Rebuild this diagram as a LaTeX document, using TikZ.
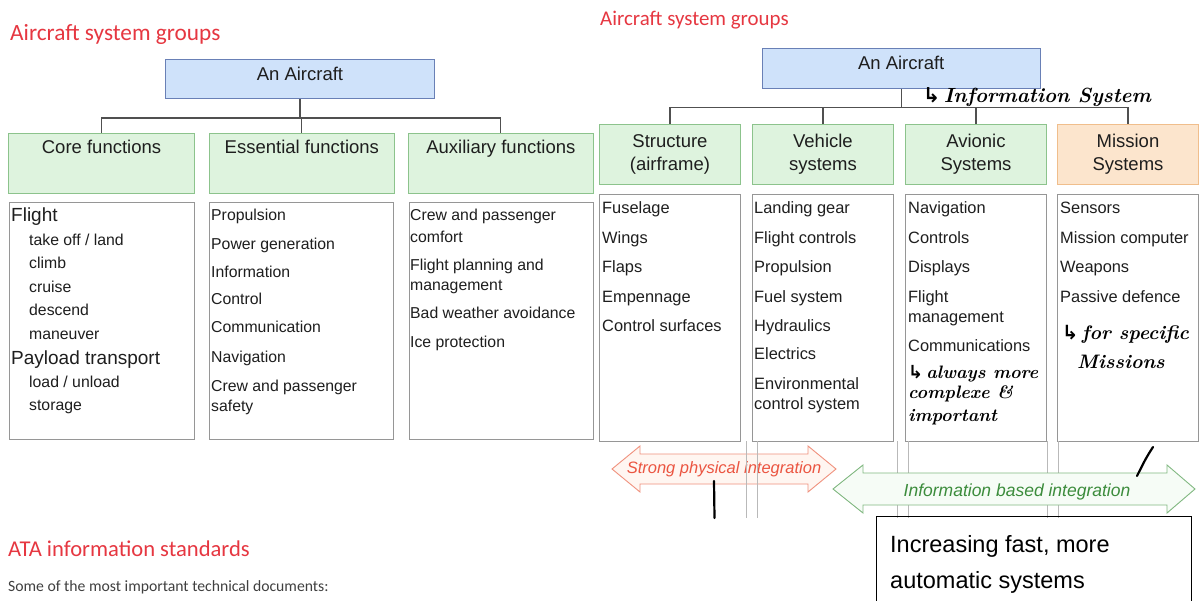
\documentclass[tikz,border=0pt]{standalone}
\usepackage{fontspec}
\setsansfont{Liberation Sans}
\newfontfamily\calibri{Carlito}
\newfontfamily\symbolfont{DejaVu Sans}
\usetikzlibrary{calc}

\definecolor{titlered}{RGB}{230,55,65}
\definecolor{docgray}{RGB}{64,64,64}
\definecolor{boxtext}{RGB}{30,30,30}
\definecolor{bluefill}{RGB}{207,226,250}
\definecolor{blueline}{RGB}{105,128,182}
\definecolor{greenfill}{RGB}{222,243,222}
\definecolor{greenline}{RGB}{140,195,140}
\definecolor{orangefill}{RGB}{252,229,205}
\definecolor{orangeline}{RGB}{240,190,140}
\definecolor{listline}{RGB}{150,150,150}
\definecolor{connline}{RGB}{80,80,80}
\definecolor{guideline}{RGB}{185,185,185}
\definecolor{physline}{RGB}{240,145,125}
\definecolor{physfill}{RGB}{255,246,241}
\definecolor{phystext}{RGB}{235,85,65}
\definecolor{infoline}{RGB}{130,185,130}
\definecolor{infofill}{RGB}{246,252,246}
\definecolor{infotext}{RGB}{60,140,60}

\newcommand\setfs[1]{\fontsize{#1}{#1}\selectfont}
\newcommand\hook{{\symbolfont\char"21B3}}

\tikzset{
  heading/.style={anchor=base west, inner sep=0pt, text=titlered},
  conn/.style={draw=connline, line width=1.1pt},
  rootbox/.style={draw=blueline, fill=bluefill, line width=0.9pt, inner sep=0pt,
    anchor=north west, font=\sffamily\setfs{18.5}, text=boxtext},
  grpbox/.style={draw=greenline, fill=greenfill, line width=0.9pt, inner sep=0pt,
    anchor=north west, font=\sffamily\setfs{18.5}, text=boxtext},
  msnbox/.style={grpbox, draw=orangeline, fill=orangefill},
  twoline/.style={align=center, font=\sffamily\fontsize{18.5}{23}\selectfont},
  listbox/.style={draw=listline, fill=white, line width=0.8pt, inner sep=0pt,
    anchor=north west},
  item/.style={anchor=base west, inner sep=0pt, font=\sffamily\setfs{15.8}, text=boxtext},
  mainitem/.style={item, font=\sffamily\setfs{19}},
  ritem/.style={item, font=\sffamily\setfs{16.4}},
  pen/.style={anchor=base west, inner sep=0pt, text=black,
    font=\rmfamily\itshape\bfseries\setfs{18}},
  penstroke/.style={draw=black, line width=2.2pt, line cap=round},
  guide/.style={draw=guideline, line width=0.8pt},
}

\begin{document}
\begin{tikzpicture}[x=1pt,y=-1pt]
\useasboundingbox[fill=white] (0,0) rectangle (1201,601);

% ---------- left tree: functional grouping ----------
\node[heading, font=\calibri\setfs{23.3}] (ltitle) at (10,41) {Aircraft system groups};

\node[rootbox, minimum width=269.8pt, text height=20.7pt, text depth=18.8pt]
  (lroot) at (164.6,59) {An Aircraft};

\node[grpbox, minimum width=186.7pt, text height=20.3pt, text depth=39.7pt]
  (lcore) at (7.7,133) {Core functions};
\node[grpbox, minimum width=185.6pt, text height=20.3pt, text depth=39.7pt]
  (less) at (208.6,133) {Essential functions};
\node[grpbox, minimum width=185.6pt, text height=20.3pt, text depth=39.7pt]
  (laux) at (407.6,133) {Auxiliary functions};

\coordinate (lbus) at (300,118);
\draw[conn] (lroot.south) -- (lroot.south |- lbus);
\draw[conn] (lcore.north) |- (laux.north |- lbus) -- (laux.north);
\draw[conn] (less.north) -- (less.north |- lbus);

\node[listbox, minimum width=185pt, minimum height=237pt] (lcorelist) at (9.4,202) {};
\node[listbox, minimum width=184.8pt, minimum height=237pt] (lesslist) at (208.6,202) {};
\node[listbox, minimum width=184.5pt, minimum height=237pt] (lauxlist) at (408.7,202) {};

\node[mainitem] (core-flight) at (11,222) {Flight};
\node[mainitem] (core-payload) at (11,364) {Payload transport};
\foreach \y/\t [count=\i] in {245.5/{take off / land}, 268.5/climb, 292.5/cruise,
    315.5/descend, 339.5/maneuver, 387.5/{load / unload}, 410.5/storage}
  \node[item] (core-\i) at (29,\y) {\t};

\foreach \y/\t [count=\i] in {221/Propulsion, 250/Power generation, 278/Information,
    305/Control, 333/Communication, 362/Navigation, 391/Crew and passenger, 411/safety}
  \node[item] (ess-\i) at (211,\y) {\t};

\foreach \y/\t [count=\i] in {221/Crew and passenger, 243/comfort, 271/Flight planning and,
    291/management, 319/Bad weather avoidance, 347/Ice protection}
  \node[item] (aux-\i) at (410,\y) {\t};

% ---------- right tree: system grouping ----------
\node[heading, font=\calibri\setfs{20.9}] (rtitle) at (600,26) {Aircraft system groups};

\node[rootbox, minimum width=278.5pt, text height=20.7pt, text depth=19.3pt]
  (rroot) at (761.5,48) {An Aircraft};

\node[grpbox, twoline, minimum width=141pt, minimum height=60pt] (rstr) at (599,124)
  {Structure\\(airframe)};
\node[grpbox, twoline, minimum width=141pt, minimum height=60pt] (rveh) at (752,124)
  {Vehicle\\systems};
\node[grpbox, twoline, minimum width=141pt, minimum height=60pt] (ravi) at (905,124)
  {Avionic\\Systems};
\node[msnbox, twoline, minimum width=141pt, minimum height=60pt] (rmsn) at (1057,124)
  {Mission\\Systems};

\coordinate (rbus) at (900,107.5);
\draw[conn] (rroot.south) -- (rroot.south |- rbus);
\draw[conn] (rstr.north) |- (rmsn.north |- rbus) -- (rmsn.north);
\draw[conn] (rveh.north) -- (rveh.north |- rbus);
\draw[conn] (ravi.north) -- (ravi.north |- rbus);

\node[listbox, minimum width=141pt, minimum height=247pt] (rstrlist) at (599,194) {};
\node[listbox, minimum width=141pt, minimum height=247pt] (rvehlist) at (752,194) {};
\node[listbox, minimum width=141pt, minimum height=247pt] (ravilist) at (905,194) {};
\node[listbox, minimum width=141pt, minimum height=247pt] (rmsnlist) at (1057,194) {};

\foreach \y/\t [count=\i] in {214/Fuselage, 244/Wings, 273/Flaps, 302/Empennage,
    331/Control surfaces}
  \node[ritem] (str-\i) at (602,\y) {\t};
\foreach \y/\t [count=\i] in {214/Landing gear, 244/Flight controls, 273/Propulsion,
    302/Fuel system, 331/Hydraulics, 359/Electrics, 389/Environmental, 409/control system}
  \node[ritem] (veh-\i) at (754,\y) {\t};
\foreach \y/\t [count=\i] in {214/Navigation, 244/Controls, 273/Displays, 302/Flight,
    323/management, 351/Communications}
  \node[ritem] (avi-\i) at (908,\y) {\t};
\foreach \y/\t [count=\i] in {214/Sensors, 244/Mission computer, 273/Weapons,
    302/Passive defence}
  \node[ritem] (msn-\i) at (1060,\y) {\t};

% handwritten notes
\node[pen, font=\rmfamily\itshape\bfseries\setfs{20.5}] (note-info) at (923,103)
  {\hook\,Information System};
\node[pen] (note-avi1) at (908,378) {\hook\,always more};
\node[pen] (note-avi2) at (908,398) {complexe \&};
\node[pen] (note-avi3) at (908,421) {important};
\node[pen, font=\rmfamily\itshape\bfseries\setfs{19.5}] (note-msn1) at (1062,339)
  {\hook\,for specific};
\node[pen, font=\rmfamily\itshape\bfseries\setfs{19.5}] (note-msn2) at (1077,368)
  {Missions};

% ---------- integration arrows ----------
\draw[draw=physline, fill=physfill, line width=0.9pt, line join=miter]
  (612,469) -- (640,446) -- (640,454) -- (808,454) -- (808,446) -- (836,469)
  -- (808,492) -- (808,484) -- (640,484) -- (640,492) -- cycle;
\node[inner sep=0pt, text=phystext, font=\sffamily\itshape\setfs{16.5}] (phys) at (724,469)
  {Strong physical integration};

\foreach \x in {746,757,897,908,1047,1058}
  \draw[guide] (\x,441) -- (\x,518);

\draw[draw=infoline, fill=infofill, line width=0.9pt, line join=miter]
  (833,489) -- (863,465) -- (863,473) -- (1167,473) -- (1167,465) -- (1195,489)
  -- (1167,513) -- (1167,505) -- (863,505) -- (863,513) -- cycle;
\node[inner sep=0pt, text=infotext, font=\sffamily\itshape\setfs{17.5}] (info) at (1017,492)
  {Information based integration};

\draw[penstroke] (714,481) -- (714.5,518);
\draw[penstroke] (1153,447) .. controls (1146,458) .. (1137,476);

% ---------- note box ----------
\node[draw=black, line width=1.2pt, anchor=north west, minimum width=315pt,
  minimum height=100pt, inner sep=0pt] (incbox) at (876,516) {};
\node[anchor=base west, inner sep=0pt, text=black, font=\sffamily\setfs{23.5}]
  (inc1) at (890,552) {Increasing fast, more};
\node[anchor=base west, inner sep=0pt, text=black, font=\sffamily\setfs{23.5}]
  (inc2) at (890,588) {automatic systems};

% ---------- lower left text ----------
\node[heading, font=\calibri\setfs{22.6}] (atatitle) at (8,556) {ATA information standards};
\node[anchor=base west, inner sep=0pt, text=docgray, font=\calibri\setfs{15.7}]
  (atadocs) at (8,591) {Some of the most important technical documents:};
\end{tikzpicture}
\end{document}
